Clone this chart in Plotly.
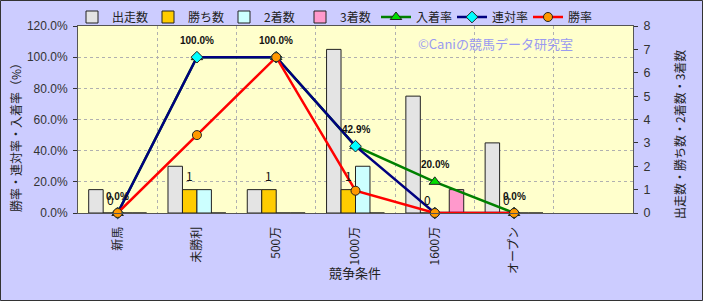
import plotly.graph_objects as go

categories = ["新馬", "未勝利", "500万", "1000万", "1600万", "オープン", " "]
starts = [1, 2, 1, 7, 5, 3]
wins = [0, 1, 1, 1, 0, 0]
seconds = [0, 1, 0, 2, 0, 0]
thirds = [0, 0, 0, 0, 1, 0]
place_rate = [0.0, 1.0, 1.0, 0.429, 0.20, 0.0]
rentai_rate = [0.0, 1.0, 1.0, 0.429, 0.0, 0.0]
win_rate = [0.0, 0.5, 1.0, 0.143, 0.0, 0.0]

cats = categories[:6]
FONT = "Noto Sans CJK JP"

fig = go.Figure()
bar_line = dict(color="#222222", width=1)
fig.add_bar(x=cats, y=starts, name="出走数", marker=dict(color="#E4E4E4", line=bar_line), yaxis="y")
fig.add_bar(x=cats, y=wins, name="勝ち数", marker=dict(color="#FFCC00", line=bar_line), yaxis="y")
fig.add_bar(x=cats, y=seconds, name="2着数", marker=dict(color="#CCFFFF", line=bar_line), yaxis="y")
fig.add_bar(x=cats, y=thirds, name="3着数", marker=dict(color="#FF99CC", line=bar_line), yaxis="y")

mline = dict(color="#222222", width=1)
fig.add_scatter(x=cats, y=place_rate, name="入着率", yaxis="y2", mode="lines+markers",
                line=dict(color="#008000", width=2.5),
                marker=dict(symbol="triangle-up", size=10, color="#00DD00", line=mline), cliponaxis=False)
fig.add_scatter(x=cats, y=rentai_rate, name="連対率", yaxis="y2", mode="lines+markers",
                line=dict(color="#000080", width=2.5),
                marker=dict(symbol="diamond", size=9, color="#00FFFF", line=mline), cliponaxis=False)
fig.add_scatter(x=cats, y=win_rate, name="勝率", yaxis="y2", mode="lines+markers",
                line=dict(color="#FF0000", width=2.5),
                marker=dict(symbol="circle", size=9, color="#FF9900", line=mline), cliponaxis=False)

W, H = 703, 301
L, R, T, B = 78, 633, 26, 213
pw, ph = R - L, B - T


def px(xp):
    return (xp - L) / pw


def py(yp):
    return (B - yp) / ph


# group geometry: 4 bars in 73% of the category width
cat_px = pw / 7
bar_px = cat_px * 0.73 / 4
win_shift = -bar_px / 2

annotations = []
for c, v in zip(cats, wins):
    annotations.append(dict(x=c, y=v, xref="x", yref="y", text=str(v), showarrow=False,
                            xshift=win_shift, yshift=14, xanchor="center", yanchor="middle",
                            font=dict(size=12, color="#111111", family=FONT)))
for c, v in zip(cats, place_rate):
    annotations.append(dict(x=c, y=v, xref="x", yref="y2", text=f"{v*100:.1f}%", showarrow=False,
                            yshift=17, xanchor="center", yanchor="middle",
                            font=dict(size=10, color="#111111", family="Liberation Sans", weight="bold")))

annotations += [
    dict(text="©Caniの競馬データ研究室", xref="paper", yref="paper", x=px(495), y=py(43),
         xanchor="center", yanchor="middle",
         showarrow=False, font=dict(size=13, color="#9A9AF0", family=FONT)),
    dict(text="勝率・連対率・入着率（%）", xref="paper", yref="paper", x=px(15), y=py(135),
         xanchor="center", yanchor="middle",
         textangle=-90, showarrow=False, font=dict(size=12, color="#222222", family=FONT)),
    dict(text="出走数・勝ち数・2着数・3着数", xref="paper", yref="paper", x=px(679), y=py(135),
         xanchor="center", yanchor="middle",
         textangle=-90, showarrow=False, font=dict(size=12, color="#222222", family=FONT)),
    dict(text="競争条件", xref="paper", yref="paper", x=px(355), y=py(272),
         xanchor="center", yanchor="middle",
         showarrow=False, font=dict(size=13, color="#222222", family=FONT)),
]

fig.update_layout(
    width=W, height=H,
    margin=dict(l=L, r=W - R, t=T, b=H - B, autoexpand=False),
    paper_bgcolor="#CCCCFF", plot_bgcolor="#FFFFCC",
    font=dict(family=FONT, size=12, color="#222222"),
    barmode="group", bargap=0.27, bargroupgap=0,
    showlegend=True,
    legend=dict(orientation="h", x=px(72), y=py(17), xanchor="left", yanchor="middle",
                bgcolor="rgba(0,0,0,0)", font=dict(size=12, family=FONT), itemwidth=30,
                entrywidth=31, entrywidthmode="pixels",
                traceorder="normal", tracegroupgap=0),
    xaxis=dict(categoryorder="array", categoryarray=categories, range=[-0.5, 6.5],
               tickson="boundaries", tickangle=-90, showgrid=True, gridcolor="#B0B0B0",
               griddash="dot", gridwidth=1, showline=True, linecolor="#555555", mirror=True,
               ticks="", ticklabelstandoff=8, tickfont=dict(size=12, family=FONT)),
    yaxis=dict(side="right", range=[0, 8], dtick=1, showgrid=False, showline=True,
               linecolor="#555555", ticks="outside", ticklen=4, tickcolor="#333333",
               ticklabelstandoff=3,
               tickfont=dict(size=12.5, family="Liberation Sans", color="#333333"), zeroline=False),
    yaxis2=dict(side="left", overlaying="y", range=[0, 1.2], dtick=0.2, tickformat=".1%",
                showgrid=True, gridcolor="#B0B0B0", griddash="dot", gridwidth=1,
                showline=True, linecolor="#555555", ticks="outside", ticklen=4,
                tickcolor="#333333", zeroline=False, ticklabelstandoff=3,
                tickfont=dict(size=12, family="Liberation Sans", color="#333333")),
    annotations=annotations,
    shapes=[dict(type="rect", xref="paper", yref="paper", x0=px(0.5), x1=px(702.5),
                 y0=py(300.5), y1=py(0.5), line=dict(color="#333333", width=1))],
)

fig.write_html("out.html")
